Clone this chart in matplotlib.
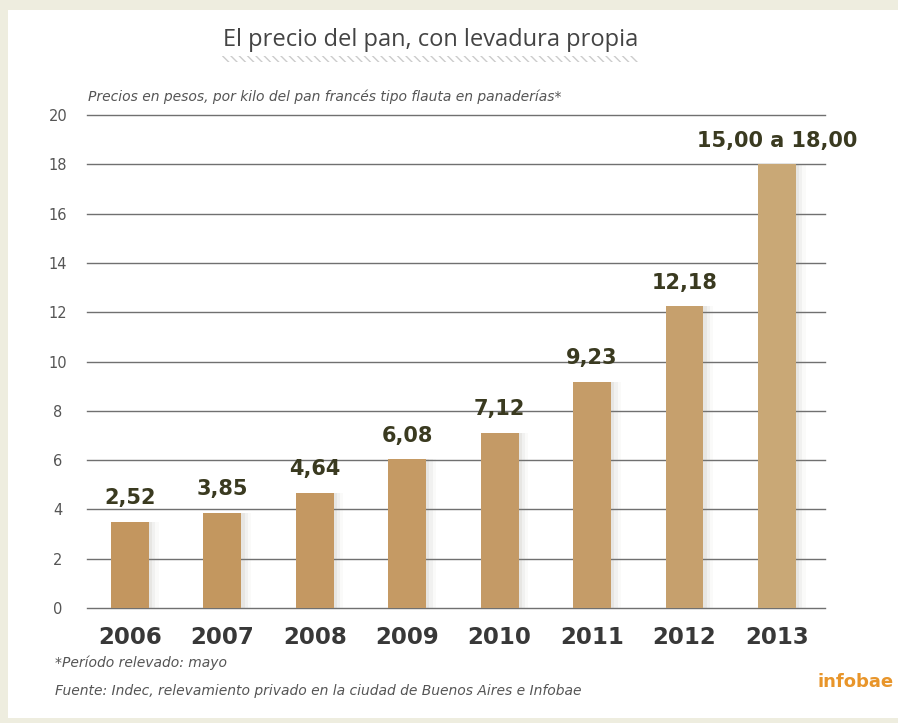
import matplotlib.pyplot as plt
from matplotlib.patches import Rectangle

# datos
anios = ['2006', '2007', '2008', '2009', '2010', '2011', '2012', '2013']
alturas = [3.5, 3.86, 4.67, 6.04, 7.11, 9.17, 12.24, 18.0]
etiquetas = ['2,52', '3,85', '4,64', '6,08', '7,12', '9,23', '12,18', '15,00 a 18,00']
ticks_y = [0, 2, 4, 6, 8, 10, 12, 14, 16, 18, 20]

colores = ['#c3965f', '#c3975f', '#c49862', '#c59a64', '#c49a66', '#c59c68', '#c6a06d', '#c9a876']

fig = plt.figure(figsize=(8.98, 7.23), dpi=100)
fig.patch.set_facecolor('#eeeddf')

# panel blanco de fondo
fig.patches.append(Rectangle((8 / 898, 5 / 723), 1.0, 708 / 723, transform=fig.transFigure,
                             facecolor='white', edgecolor='none', zorder=-5))

ax = fig.add_axes([87 / 898, 115 / 723, 738 / 898, 493 / 723])
ax.set_facecolor('none')
ax.set_zorder(2)

x = list(range(len(anios)))

# sombra difusa detras de las barras
for k, a in enumerate([0.10, 0.07, 0.04]):
    ax.bar([i + 0.03 + 0.02 * k for i in x], alturas, width=0.42 + 0.03 * k,
           color='#8a8478', alpha=a, zorder=2, linewidth=0)

ax.bar(x, alturas, width=0.41, color=colores, zorder=3, linewidth=0)

for i, (h, t) in enumerate(zip(alturas, etiquetas)):
    ax.text(i, h + 0.55, t, ha='center', va='bottom', fontsize=15, fontweight='bold',
            color='#3a3a20', zorder=4)

ax.set_ylim(0, 20)
ax.set_xlim(-0.465, 7.52)
ax.set_yticks(ticks_y)
ax.yaxis.grid(True, color='#707070', linewidth=1.0, zorder=1)
ax.set_axisbelow(True)
for gl in ax.get_ygridlines():
    gl.set_clip_on(False)
for s in ax.spines.values():
    s.set_visible(False)
ax.tick_params(axis='y', length=0, pad=21, labelsize=10.5, labelcolor='#555555')
ax.set_yticklabels([str(v) for v in ticks_y], ha='center')
ax.set_xticks(x)
ax.set_xticklabels(anios, fontsize=16.5, fontweight='bold', color='#383838')
ax.tick_params(axis='x', length=0, pad=13)

fig.text(431 / 898, 1 - 40 / 723, 'El precio del pan, con levadura propia', ha='center', va='center',
         fontsize=17, color='#444444', family='Open Sans')
# subrayado ondulado del titulo
fig.patches.append(Rectangle((222 / 898, 1 - 62 / 723), 416 / 898, 6 / 723, transform=fig.transFigure,
                             facecolor='none', edgecolor='#cccccc', hatch='\\\\\\\\', linewidth=0,
                             zorder=1))
fig.text(88 / 898, 1 - 97 / 723, 'Precios en pesos, por kilo del pan francés tipo flauta en panaderías*',
         ha='left', va='center', fontsize=10, style='italic', color='#555555')
fig.text(55 / 898, 1 - 663 / 723, '*Período relevado: mayo', ha='left', va='center',
         fontsize=10, style='italic', color='#555555')
fig.text(55 / 898, 1 - 691 / 723, 'Fuente: Indec, relevamiento privado en la ciudad de Buenos Aires e Infobae',
         ha='left', va='center', fontsize=10, style='italic', color='#555555')
fig.text(894 / 898, 1 - 682 / 723, 'infobae', ha='right', va='center', fontsize=13,
         fontweight='bold', color='#e8952a', family=['Liberation Sans Narrow', 'DejaVu Sans'])

fig.savefig('out.png', dpi=100, facecolor=fig.get_facecolor())
